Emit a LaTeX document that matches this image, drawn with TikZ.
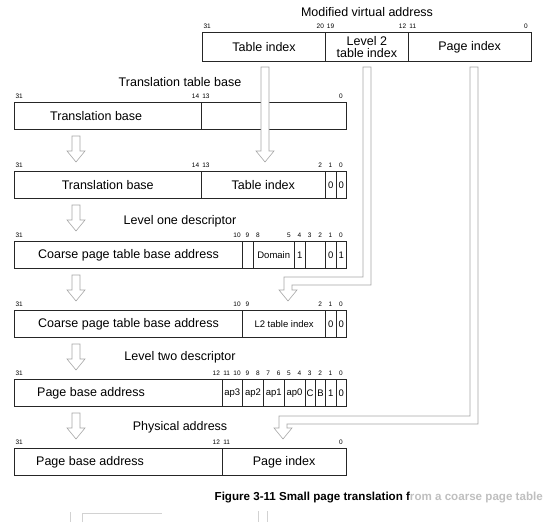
\documentclass[tikz,border=0pt]{standalone}
\usepackage{fontspec}
\setmainfont{Liberation Sans}
\begin{document}
\begin{tikzpicture}[x=1pt,y=-1pt,
  fld/.style={draw=black!85, line width=0.7pt, inner sep=0pt, minimum height=27pt, anchor=north west, font=\fontsize{12.5}{14}\selectfont},
  sfld/.style={font=\fontsize{9.5}{11}\selectfont},
  bitlbl/.style={inner sep=0pt, font=\fontsize{6.5}{7}\selectfont},
  ttl/.style={inner sep=0pt, font=\fontsize{12.5}{14}\selectfont},
  maintxt/.style={inner sep=0pt, anchor=west, font=\fontsize{12.5}{14}\selectfont},
  hollow/.style={draw=gray!70, fill=white, line width=0.6pt, line join=miter},
  faint/.style={draw=gray!35, line width=0.6pt},
]
\useasboundingbox (0,0) rectangle (545,522);

\newcommand\fld[6][]{\node[fld,#1,minimum width={(#3-#4)*10.375}] (#2) at ({346-#3*10.375},#5) {#6};}
\newcommand\rowbits[3]{\foreach \n in {#3} {\node[bitlbl] (#1-\n) at ({346-(\n+0.5)*10.375},#2) {\n};}}
\newcommand\hdown[3]{\draw[hollow] (#1-4,#2) -- (#1+4,#2) -- (#1+4,#3-11) -- (#1+9,#3-11) -- (#1,#3) -- (#1-9,#3-11) -- (#1-4,#3-11) -- cycle;}

% ---------- Modified virtual address ----------
\node[ttl] (tvta) at (367,12) {Modified virtual address};
\node[fld, minimum height=29pt, minimum width={12*10.28}] (va1) at ({531-32*10.28},32) {Table index};
\node[fld, minimum height=29pt, minimum width={8*10.28}, align=center, font=\fontsize{12.5}{12.5}\selectfont] (va2) at ({531-20*10.28},32) {Level 2\\table index};
\node[fld, minimum height=29pt, minimum width={12*10.28}] (va3) at ({531-12*10.28},32) {Page index};
\foreach \n in {31,20,19,12,11,0} {\node[bitlbl] (tb-\n) at ({531-(\n+0.5)*10.28},26) {\n};}

% ---------- Row 1: Translation table base ----------
\node[ttl] (t1) at (180,82) {Translation table base};
\fld{r1a}{32}{14}{102}{}
\fld{r1b}{14}{0}{102}{}
\node[maintxt] (r1t) at ([xshift=36pt]r1a.west) {Translation base};
\rowbits{b1}{96}{31,14,13,0}

% ---------- Row 2 ----------
\fld{r2a}{32}{14}{171}{Translation base}
\fld{r2b}{14}{2}{171}{Table index}
\fld[sfld]{r2c}{2}{1}{171}{0}
\fld[sfld]{r2d}{1}{0}{171}{0}
\rowbits{b2}{165}{31,14,13,2,1,0}

% ---------- Row 3: Level one descriptor ----------
\node[ttl] (t3) at (180,221) {Level one descriptor};
\fld{r3a}{32}{10}{241}{Coarse page table base address}
\fld{r3b}{10}{9}{241}{}
\fld[sfld]{r3c}{9}{5}{241}{Domain}
\fld[sfld]{r3d}{5}{4}{241}{1}
\fld{r3e}{4}{2}{241}{}
\fld[sfld]{r3f}{2}{1}{241}{0}
\fld[sfld]{r3g}{1}{0}{241}{1}
\rowbits{b3}{235}{31,10,9,8,5,4,3,2,1,0}

% ---------- Row 4 ----------
\fld{r4a}{32}{10}{310}{Coarse page table base address}
\fld[sfld]{r4b}{10}{2}{310}{L2 table index}
\fld[sfld]{r4c}{2}{1}{310}{0}
\fld[sfld]{r4d}{1}{0}{310}{0}
\rowbits{b4}{304}{31,10,9,2,1,0}

% ---------- Row 5: Level two descriptor ----------
\node[ttl] (t5) at (180,357) {Level two descriptor};
\fld{r5a}{32}{12}{379}{}
\node[maintxt] (r5t) at ([xshift=23pt]r5a.west) {Page base address};
\fld[sfld]{r5b}{12}{10}{379}{ap3}
\fld[sfld]{r5c}{10}{8}{379}{ap2}
\fld[sfld]{r5d}{8}{6}{379}{ap1}
\fld[sfld]{r5e}{6}{4}{379}{ap0}
\fld[sfld]{r5f}{4}{3}{379}{C}
\fld[sfld]{r5g}{3}{2}{379}{B}
\fld[sfld]{r5h}{2}{1}{379}{1}
\fld[sfld]{r5i}{1}{0}{379}{0}
\rowbits{b5}{373}{31,12,11,10,9,8,7,6,5,4,3,2,1,0}

% ---------- Row 6: Physical address ----------
\node[ttl] (t6) at (180,427) {Physical address};
\fld{r6a}{32}{12}{448}{}
\node[maintxt] (r6t) at ([xshift=22pt]r6a.west) {Page base address};
\fld{r6b}{12}{0}{448}{Page index}
\rowbits{b6}{442}{31,12,11,0}

% ---------- hollow arrows ----------
\hdown{76}{136}{162}
\hdown{76}{205}{231}
\hdown{76}{275}{301}
\hdown{76}{344}{370}
\hdown{76}{413}{439}
% table index straight down
\hdown{265}{67}{162}
% level 2 table index bent arrow
\draw[hollow] (363,67) -- (371,67) -- (371,285) -- (292,285) -- (292,290) -- (297,290) -- (288,301) -- (279,290) -- (284,290) -- (284,277) -- (363,277) -- cycle;
% page index bent arrow
\draw[hollow] (470,67) -- (478,67) -- (478,424) -- (287,424) -- (287,428) -- (292,428) -- (283,439) -- (274,428) -- (279,428) -- (279,416) -- (470,416) -- cycle;

% ---------- caption ----------
\node[inner sep=0pt, anchor=east, font=\fontsize{11.6}{13}\selectfont\bfseries] (cap) at (543,498) {Figure 3-11 Small page translation f\textcolor{gray!50}{rom a coarse page table}};

% faint remains at the bottom edge
\draw[faint] (70,512) -- (70,522);
\draw[faint] (82,522) -- (82,513) -- (162,513);
\draw[faint] (258,511) -- (258,522);
\draw[faint] (267,511) -- (267,522);
\end{tikzpicture}
\end{document}
